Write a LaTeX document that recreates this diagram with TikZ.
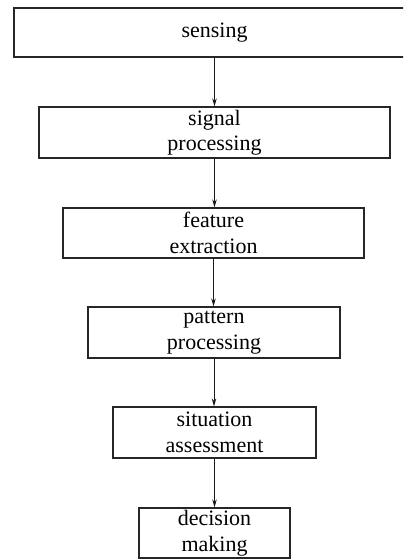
\documentclass[tikz,border=0pt]{standalone}
\usepackage{fontspec}
\setmainfont{Liberation Serif}
\usetikzlibrary{arrows.meta}
\begin{document}
\begin{tikzpicture}[x=1bp,y=-1bp,
  stage/.style={draw=black!85,line width=1.2bp,align=center,inner sep=0pt,
    font=\fontsize{22bp}{25.5bp}\selectfont,text=black},
  flow/.style={draw=black!90,line width=1bp,-{Stealth[length=8bp,width=4.5bp]}}]
\useasboundingbox (0,0) rectangle (403,559);
\clip (0,0) rectangle (403,559);
\node[stage,minimum width=401bp,minimum height=49bp] (sense) at (214.5,32.5) {sensing};
\node[stage,minimum width=351bp,minimum height=51bp] (sig) at (214.5,132.5) {signal\\processing};
\node[stage,minimum width=301bp,minimum height=50bp] (feat) at (213.5,233) {feature\\extraction};
\node[stage,minimum width=252bp,minimum height=51bp] (patt) at (214,332.5) {pattern\\processing};
\node[stage,minimum width=203bp,minimum height=51bp] (sit) at (214.5,432.5) {situation\\assessment};
\node[stage,minimum width=151bp,minimum height=50bp] (dec) at (214.5,533) {decision\\making};
\draw[flow] (sense.south) -- (sig.north);
\draw[flow] (sig.south) -- (sig.south |- feat.north);
\draw[flow] (feat.south) -- (feat.south |- patt.north);
\draw[flow] (patt.south) -- (patt.south |- sit.north);
\draw[flow] (sit.south) -- (sit.south |- dec.north);
\end{tikzpicture}
\end{document}
